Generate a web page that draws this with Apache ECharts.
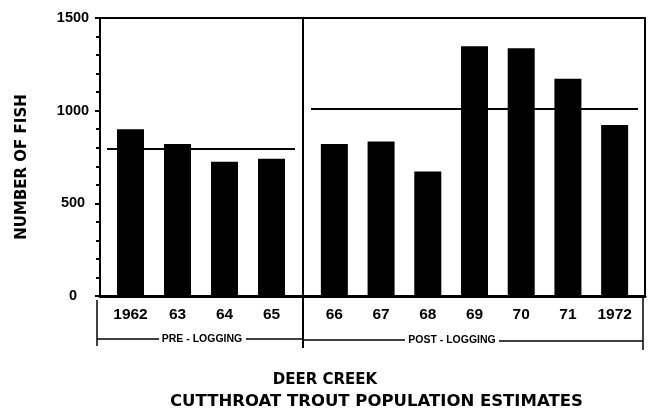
<!DOCTYPE html>
<html>
<head>
<meta charset="utf-8">
<script src="https://cdn.jsdelivr.net/npm/echarts@6/dist/echarts.min.js"></script>
<style>
html,body{margin:0;padding:0;background:#fff;}
#chart{width:650px;height:410px;}
</style>
</head>
<body>
<div id="chart"></div>
<script>
// ---- data ----
const categoriesPre = ['1962', '63', '64', '65'];
const categoriesPost = ['66', '67', '68', '69', '70', '71', '1972'];
const fishPre = [900, 820, 725, 740];
const fishPost = [820, 833, 672, 1347, 1337, 1172, 923];
const meanPre = 795;
const meanPost = 1013;
const yMin = 0, yMax = 1500, yStep = 500;
const yAxisTitle = 'NUMBER OF FISH';
const periodLabels = ['PRE - LOGGING', 'POST - LOGGING'];
const titleLines = ['DEER CREEK', 'CUTTHROAT TROUT POPULATION ESTIMATES'];

const chart = echarts.init(document.getElementById('chart'), null, {renderer: 'canvas'});
const BLACK = '#000';
const labelFont = {color: BLACK, fontFamily: 'Liberation Sans', fontWeight: 'bold'};
const heavyFont = 'DejaVu Sans';

function hiddenY() {
  return {type: 'value', min: yMin, max: yMax, show: false, splitLine: {show: false}};
}
function catX(gridIndex, cats) {
  return {
    type: 'category', gridIndex, data: cats,
    axisLine: {show: false}, axisTick: {show: false}, splitLine: {show: false},
    axisLabel: Object.assign({fontSize: 15.5, margin: 11, interval: 0}, labelFont)
  };
}
function barSeries(idx, data, mean) {
  return {
    type: 'bar', xAxisIndex: idx, yAxisIndex: idx, data,
    barWidth: 27, itemStyle: {color: BLACK}, silent: true,
    markLine: {
      silent: true, symbol: ['none', 'none'], label: {show: false},
      lineStyle: {color: BLACK, width: 2, type: 'solid'},
      data: [{yAxis: mean}]
    }
  };
}

const option = {
  animation: false,
  backgroundColor: '#fff',
  grid: [
    {left: 100, top: 18, right: 5, bottom: 114, show: true, borderColor: BLACK, borderWidth: 2, backgroundColor: 'transparent'},
    {left: 107, top: 18, right: 355, bottom: 114},
    {left: 311, top: 18, right: 12, bottom: 114}
  ],
  xAxis: [
    {type: 'value', gridIndex: 0, min: 0, max: 1, axisLine: {show: true, lineStyle: {color: BLACK, width: 3}},
     axisTick: {show: false}, axisLabel: {show: false}, splitLine: {show: false}},
    catX(1, categoriesPre),
    catX(2, categoriesPost)
  ],
  yAxis: [
    {
      type: 'value', gridIndex: 0, min: yMin, max: yMax, interval: yStep,
      axisLine: {show: true, lineStyle: {color: BLACK, width: 2}},
      axisTick: {show: true, length: 5, lineStyle: {color: BLACK, width: 2}},
      minorTick: {show: true, splitNumber: 5, length: 4, lineStyle: {color: BLACK, width: 2}},
      splitLine: {show: false},
      axisLabel: Object.assign({fontSize: 14.5, margin: 27, align: 'center', formatter: v => String(v)}, labelFont)
    },
    Object.assign(hiddenY(), {gridIndex: 1}),
    Object.assign(hiddenY(), {gridIndex: 2})
  ],
  series: [
    barSeries(1, fishPre, meanPre),
    barSeries(2, fishPost, meanPost)
  ],
  title: [
    {text: titleLines[0], left: 320, top: 368, textAlign: 'center',
     textStyle: {color: BLACK, fontFamily: heavyFont, fontWeight: 'bold', fontSize: 15}},
    {text: titleLines[1], left: 165, top: 388,
     textStyle: {color: BLACK, fontFamily: heavyFont, fontWeight: 'bold', fontSize: 16.5}}
  ],
  graphic: [
    // y axis title
    {type: 'text', x: 22, y: 167, rotation: Math.PI / 2,
     style: {text: yAxisTitle, fill: BLACK, font: 'bold 15px "DejaVu Sans"', textAlign: 'center', textVerticalAlign: 'middle'}},
    // divider between periods
    {type: 'line', shape: {x1: 303, y1: 18, x2: 303, y2: 348}, style: {stroke: BLACK, lineWidth: 2}},
    // period brackets
    {type: 'line', shape: {x1: 97, y1: 300, x2: 97, y2: 346}, style: {stroke: BLACK, lineWidth: 1.5}},
    {type: 'line', shape: {x1: 643, y1: 297, x2: 643, y2: 350}, style: {stroke: BLACK, lineWidth: 1.5}},
    {type: 'line', shape: {x1: 97, y1: 339, x2: 159, y2: 339}, style: {stroke: BLACK, lineWidth: 1.3}},
    {type: 'line', shape: {x1: 246, y1: 339, x2: 303, y2: 339}, style: {stroke: BLACK, lineWidth: 1.3}},
    {type: 'line', shape: {x1: 303, y1: 340, x2: 405, y2: 340}, style: {stroke: BLACK, lineWidth: 1.3}},
    {type: 'line', shape: {x1: 499, y1: 341, x2: 643, y2: 341}, style: {stroke: BLACK, lineWidth: 1.3}},
    {type: 'text', x: 202, y: 339, style: {text: periodLabels[0], fill: BLACK, font: 'bold 10.5px "Liberation Sans"', textAlign: 'center', textVerticalAlign: 'middle'}},
    {type: 'text', x: 452, y: 340, style: {text: periodLabels[1], fill: BLACK, font: 'bold 10.5px "Liberation Sans"', textAlign: 'center', textVerticalAlign: 'middle'}}
  ]
};
chart.setOption(option);
</script>
</body>
</html>
